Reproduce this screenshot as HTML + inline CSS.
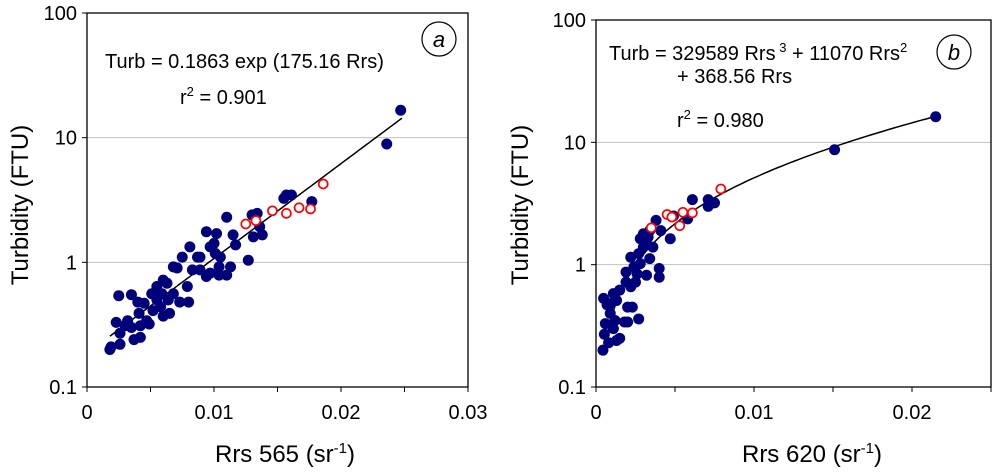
<!DOCTYPE html>
<html><head><meta charset="utf-8"><style>
body{margin:0;background:#fff}
svg{display:block;font-family:"Liberation Sans",Arial,sans-serif}
</style></head><body>
<svg id="svg" width="1000" height="474" viewBox="0 0 1000 474"></svg>
<script>
// Panel a data (Rrs 565, Turbidity FTU)
const aBlueX=[0.0018,0.0019,0.0026,0.0025,0.0023,0.0032,0.0026,0.0035,0.0037,0.0042,0.004,0.0045,0.0041,0.0035,0.0049,0.0051,0.0055,0.006,0.0063,0.0058,0.0065,0.006,0.0052,0.0071,0.0075,0.0081,0.0079,0.0073,0.008,0.0089,0.0087,0.0094,0.0097,0.01,0.0102,0.0105,0.0104,0.0104,0.011,0.011,0.0113,0.0115,0.0117,0.0127,0.013,0.0134,0.0131,0.0136,0.0138,0.0155,0.0157,0.0161,0.0177,0.0236,0.0247,0.0068,0.0059,0.0047,0.0089,0.0097,0.0101,0.0094,0.0083,0.0068,0.0055,0.0064,0.003,0.0042];
const aBlueY=[0.20,0.21,0.22,0.54,0.33,0.34,0.27,0.55,0.24,0.25,0.48,0.47,0.39,0.30,0.32,0.56,0.64,0.72,0.68,0.44,0.39,0.37,0.41,0.9,1.1,1.33,0.64,0.48,0.48,0.87,1.1,1.76,0.82,1.42,1.7,1.1,0.92,0.79,2.3,0.79,0.92,1.66,1.38,1.04,2.4,2.47,1.6,1.93,1.66,3.26,3.47,3.47,3.07,8.9,16.6,0.56,0.56,0.34,1.1,1.33,1.18,0.77,0.87,0.92,0.5,0.5,0.31,0.31];
const aRedX=[0.0125,0.0133,0.0146,0.0157,0.0167,0.0176,0.0186];
const aRedY=[2.03,2.16,2.59,2.47,2.74,2.68,4.25];
// Panel b data (Rrs 620, Turbidity FTU)
const bBlueX=[0.00044,0.00048,0.00059,0.00053,0.0008,0.0009,0.0011,0.0013,0.0015,0.0012,0.0015,0.0019,0.002,0.0018,0.002,0.0023,0.0027,0.0019,0.0022,0.0024,0.0026,0.0027,0.0028,0.003,0.0032,0.0032,0.0034,0.0034,0.0036,0.0038,0.004,0.004,0.0041,0.0047,0.0049,0.0058,0.0061,0.0071,0.0071,0.0075,0.0151,0.0215,0.0009,0.0013,0.0022,0.0025,0.0028,0.003,0.0033,0.0007,0.0011];
const bBlueY=[0.20,0.53,0.33,0.27,0.23,0.40,0.58,0.24,0.25,0.35,0.62,0.72,0.45,0.34,0.34,0.45,0.36,0.87,1.15,0.96,0.84,1.23,1.63,1.39,1.48,0.82,1.12,1.9,1.39,2.3,0.93,0.79,1.9,1.63,2.5,2.37,3.4,3.4,3.0,3.2,8.7,16.2,0.48,0.51,0.66,0.72,1.02,1.79,1.68,0.47,0.30];
const bRedX=[0.0035,0.0045,0.0048,0.0053,0.0055,0.0061,0.0079];
const bRedY=[2.0,2.57,2.45,2.08,2.68,2.65,4.16];
const yTicks=[0.1,1,10,100];
const yTickLabels=["0.1","1","10","100"];
const aXTicks=[0,0.01,0.02,0.03];
const aXTickLabels=["0","0.01","0.02","0.03"];
const bXTicks=[0,0.01,0.02];
const bXTickLabels=["0","0.01","0.02"];

const NS="http://www.w3.org/2000/svg";
const svg=document.getElementById('svg');
function mk(tag,attrs,parent,text){const e=document.createElementNS(NS,tag);for(const k in attrs)e.setAttribute(k,attrs[k]);if(text!==undefined)e.textContent=text;(parent||svg).appendChild(e);return e;}

function panel(o){
  const g=mk('g',{});
  
  
  const sx=v=>o.L+(v-o.xmin)/(o.xmax-o.xmin)*(o.R-o.L);
  const sy=v=>o.B-(Math.log10(v)+1)/3*(o.B-o.T);
  [1,10].forEach(v=>{const l=mk('line',{x1:o.L,x2:o.R,y1:sy(v),y2:sy(v),stroke:'#c0c0c0','stroke-width':1},g);
    });
  const fr=mk('rect',{x:o.L,y:o.T,width:o.R-o.L,height:o.B-o.T,fill:'none',stroke:'#000','stroke-width':1.3},g);
  
  yTicks.forEach((v,i)=>{mk('line',{x1:o.L-5,x2:o.L,y1:sy(v),y2:sy(v),stroke:'#000'},g);
    const t=mk('text',{x:o.L-10,y:sy(v)+7,'text-anchor':'end','font-size':20},g,yTickLabels[i]);
    });
  for(let v=o.xmin;v<=o.xmax+1e-9;v+=o.minor){mk('line',{x1:sx(v),x2:sx(v),y1:o.B,y2:o.B+5,stroke:'#000'},g);}
  o.xt.forEach((v,i)=>{const t=mk('text',{x:sx(v),y:o.B+32,'text-anchor':'middle','font-size':20},g,o.xtl[i]);
    });
  let d='';const n=80;
  for(let i=0;i<=n;i++){const x=o.f0+(o.f1-o.f0)*i/n;d+=(i?'L':'M')+sx(x).toFixed(1)+','+sy(o.fit(x)).toFixed(1);}
  const fl=mk('path',{d:d,fill:'none',stroke:'#000','stroke-width':1.5},g);
  
  o.bx.forEach((x,i)=>{const c=mk('circle',{cx:sx(x),cy:sy(o.by[i]),r:5.5,fill:'#00007a'},g);
    });
  o.rx.forEach((x,i)=>{const c=mk('circle',{cx:sx(x),cy:sy(o.ry[i]),r:4.5,fill:'#fff',stroke:'#ff0000','stroke-width':1.7},g);
    });
  return {g,sx,sy};
}

panel({name:'panel-a',L:87,R:468,T:13,B:387,xmin:0,xmax:0.03,minor:0.005,xt:aXTicks,xtl:aXTickLabels,
  bx:aBlueX,by:aBlueY,rx:aRedX,ry:aRedY,f0:0.0018,f1:0.0248,fit:x=>0.1863*Math.exp(175.16*x)});
panel({name:'panel-b',L:596,R:991,T:20,B:387,xmin:0,xmax:0.025,minor:0.005,xt:bXTicks,xtl:bXTickLabels,
  bx:bBlueX,by:bBlueY,rx:bRedX,ry:bRedY,f0:0.0005,f1:0.0215,fit:x=>329589*x*x*x+11070*x*x+368.56*x});

svg.insertAdjacentHTML('beforeend',`
<text x="105" y="68" font-size="20">Turb = 0.1863 exp (175.16 Rrs)</text>
<text x="180" y="104" font-size="20">r<tspan dy="-8" font-size="13">2</tspan><tspan dy="8"> = 0.901</tspan></text>
<circle cx="439" cy="39" r="17" fill="#fff" stroke="#000" stroke-width="1.2"/>
<text x="439" y="47" font-size="22" font-style="italic" text-anchor="middle">a</text>
<text transform="translate(28,205) rotate(-90)" font-size="24" text-anchor="middle">Turbidity (FTU)</text>
<text x="285" y="462" font-size="24" text-anchor="middle">Rrs 565 (sr<tspan dy="-9" font-size="15">-1</tspan><tspan dy="9">)</tspan></text>
<text x="609" y="60" font-size="20">Turb = 329589 Rrs<tspan dy="-8" font-size="13"> 3</tspan><tspan dy="8"> + 11070 Rrs</tspan><tspan dy="-8" font-size="13">2</tspan></text>
<text x="677" y="83" font-size="20">+ 368.56 Rrs</text>
<text x="677" y="127" font-size="20">r<tspan dy="-8" font-size="13">2</tspan><tspan dy="8"> = 0.980</tspan></text>
<circle cx="954" cy="52" r="17" fill="#fff" stroke="#000" stroke-width="1.2"/>
<text x="954" y="60" font-size="22" font-style="italic" text-anchor="middle">b</text>
<text transform="translate(528,205) rotate(-90)" font-size="24" text-anchor="middle">Turbidity (FTU)</text>
<text x="812" y="462" font-size="24" text-anchor="middle">Rrs 620 (sr<tspan dy="-9" font-size="15">-1</tspan><tspan dy="9">)</tspan></text>
`);
</script>
</body></html>
